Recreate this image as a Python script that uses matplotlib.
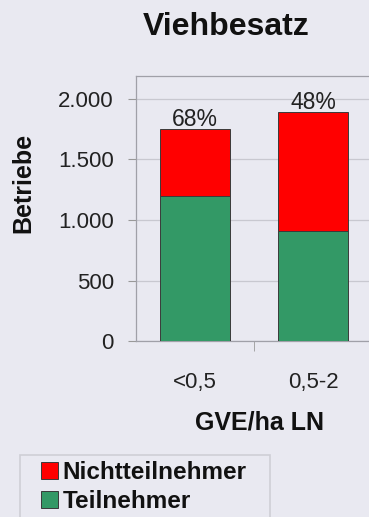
import numpy as np
import matplotlib.pyplot as plt
from matplotlib.patches import Rectangle
from matplotlib.legend_handler import HandlerPatch

plt.rcParams['font.family'] = ['Liberation Sans', 'DejaVu Sans']

kategorien = ['<0,5', '0,5-2']
teilnehmer = [1200, 910]
nichtteilnehmer = [550, 980]
anteil = ['68%', '48%']

bg = '#e9e9f1'
gruen = '#339966'
rot = '#ff0000'

fig = plt.figure(figsize=(3.69, 5.17), dpi=100, facecolor=bg)
ax = fig.add_axes([0.3686, 0.3404, 0.959, 0.5126], facecolor=bg)

x = np.arange(len(kategorien))
b1 = ax.bar(x, teilnehmer, width=0.6, color=gruen, edgecolor='#3a3a3a',
            linewidth=0.7, label='Teilnehmer', zorder=3)
b2 = ax.bar(x, nichtteilnehmer, width=0.6, bottom=teilnehmer, color=rot,
            edgecolor='#3a3a3a', linewidth=0.7, label='Nichtteilnehmer', zorder=3)

for i in range(len(kategorien)):
    total = teilnehmer[i] + nichtteilnehmer[i]
    ax.text(x[i], total + 30, anteil[i], ha='center', va='baseline',
            fontsize=16.5, color='#222222')

ax.set_xlim(-0.5, 2.5)
ax.set_ylim(0, 2190)
ax.set_yticks([0, 500, 1000, 1500, 2000])
ax.set_yticklabels(['0', '500', '1.000', '1.500', '2.000'], fontsize=16,
                   color='#222222')
ax.set_xticks(x)
ax.set_xticklabels(kategorien, fontsize=16, color='#222222')
ax.set_xticks([0.5, 1.5], minor=True)
ax.tick_params(axis='x', which='major', length=0, pad=22)
ax.tick_params(axis='x', which='minor', length=7, color='#999999')
ax.tick_params(axis='y', length=6, color='#999999', pad=10)
ax.grid(axis='y', color='#c8c8d0', linewidth=0.9, zorder=0)
for s in ax.spines.values():
    s.set_color('#a0a0a8')
    s.set_linewidth(0.9)

ax.set_ylabel('Betriebe', fontsize=18, fontweight='bold', va='center',
              color='#111111')
ax.yaxis.set_label_coords(-0.319, 0.596)
ax.set_xlabel('GVE/ha LN', fontsize=18, fontweight='bold', va='center',
              color='#111111')
ax.xaxis.set_label_coords(0.350, -0.309)
fig.text(0.612, 0.932, 'Viehbesatz', ha='center', va='baseline',
         fontsize=23, fontweight='bold', color='#111111')


def quadrat(legend, orig_handle, xdescent, ydescent, width, height, fontsize):
    s = 17 * 72 / 100
    return Rectangle((-xdescent + width - s, -ydescent + (height - s) / 2), s, s)


# Rahmen der Legende (unten abgeschnitten)
fig.patches.append(Rectangle((20 / 369, -0.05), 250 / 369, 0.05 + 62 / 517,
                             transform=fig.transFigure, facecolor=bg,
                             edgecolor='#cfcfd6', linewidth=1.2))
leg = fig.legend([b2[0], b1[0]], ['Nichtteilnehmer', 'Teilnehmer'],
                 loc='upper left', bbox_to_anchor=(20 / 369, 1 - 461 / 517),
                 fontsize=17.5, frameon=False,
                 handlelength=1.55, handleheight=0.75, handletextpad=0.2,
                 borderpad=0.0, labelspacing=0.26, borderaxespad=0,
                 handler_map={Rectangle: HandlerPatch(patch_func=quadrat)})
for t in leg.get_texts():
    t.set_fontweight('bold')
    t.set_color('#111111')

plt.savefig('out.png', dpi=100, facecolor=bg)
